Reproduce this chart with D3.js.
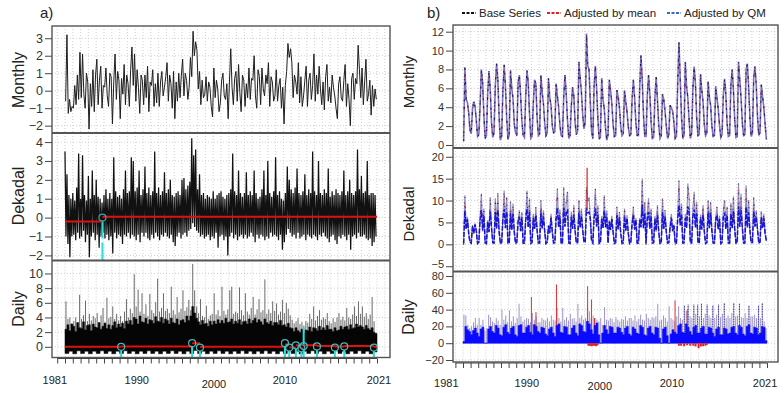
<!DOCTYPE html>
<html><head><meta charset="utf-8">
<script src="https://cdn.jsdelivr.net/npm/d3@7/dist/d3.min.js"></script>
<style>body{margin:0;background:#fff;} svg{display:block;font-family:"Liberation Sans",Arial,sans-serif;}</style>
</head><body><svg id="c" width="784" height="393"></svg>
<script>
// ---------------- DATA ----------------
// panel a) monthly anomaly, 6 values per year (1981-2020)
const aMonthly = [
-0.6,3.2,-1.3,-0.5,-1.2,-0.9, -1.0,0.3,-0.8,0.9,-0.5,2.2, -0.4,2.1,-0.2,-1.0,1.0,0.5, -2.2,0.4,-0.9,1.2,-1.2,0.9, 1.8,-0.8,0.6,1.4,-1.0,0.3,
0.2,1.3,-0.3,-0.9,1.0,0.8, -1.9,0.5,2.1,-0.5,1.1,0.6, -1.6,0.7,-0.2,1.5,-0.8,0.9, 0.4,-0.9,1.2,2.5,0.3,2.1, -0.6,1.2,0.2,-1.3,0.9,0.6,
-0.8,0.9,-0.4,1.4,-1.2,0.5, 0.3,1.2,-0.9,0.4,-0.7,1.0, -0.9,0.5,1.1,-0.3,0.2,0.8, 1.6,-0.6,0.9,0.4,-1.0,1.1, -1.6,0.5,-0.6,1.0,-0.4,0.9,
1.8,-0.3,1.0,0.6,-0.5,0.2, 1.9,0.8,3.4,2.0,2.8,2.3, 0.1,1.1,-0.8,0.6,-0.4,-0.2, 0.8,-0.6,0.5,0.2,-0.9,-1.5, 1.3,-0.4,0.6,0.1,-1.2,-0.7,
0.6,1.0,-0.3,-0.5,0.4,-1.6, 0.5,2.4,0.2,-0.8,0.7,1.1, -0.6,1.5,-0.1,-1.2,0.9,0.6, -0.9,0.4,-0.4,1.3,-0.5,0.7, 0.6,2.0,-0.3,-1.0,1.2,0.8,
-0.8,1.3,0.1,-0.3,0.9,0.4, 1.6,-0.9,0.8,0.5,-0.6,-0.3, 1.2,-0.6,0.3,0.7,-1.0,0.2, -1.9,0.3,1.1,2.7,1.9,2.4, 1.6,-0.4,0.9,0.5,-0.2,1.6,
-0.7,0.8,-0.9,-0.3,0.6,1.4, -0.9,0.6,1.0,-0.5,0.3,2.1, -0.6,0.9,-0.2,1.4,0.1,-0.8, 0.5,-1.1,0.8,1.5,-0.6,0.2, -0.7,0.9,0.2,-0.3,-1.0,-1.6,
0.4,0.8,-0.4,-0.6,0.6,1.5, -0.9,0.4,-0.5,-2.0,0.7,1.0, -0.5,0.7,0.4,2.6,1.2,-0.4, 1.3,-0.8,0.5,1.8,-0.6,-0.2, 0.6,-1.4,0.3,-0.9,0.1,-0.5];

// dekadal anomaly: highest / lowest value of each quarter (1981-2020)
const aDekHigh = [
3.5,2.3,1.2,1.0, 1.3,0.9,1.6,3.4, 1.0,3.3,1.2,0.9, 2.2,1.0,2.5,1.2, 2.0,1.1,1.0,0.8,
1.2,1.5,1.0,1.3, 1.0,3.2,1.4,1.1, 1.2,1.0,1.5,2.5, 1.3,1.4,3.2,3.0, 1.4,1.6,2.5,1.2,
1.5,2.7,1.3,1.6, 1.2,1.4,3.5,1.3, 1.6,1.2,1.4,2.4, 1.3,1.5,2.0,1.2, 1.1,1.3,1.4,1.2,
2.0,2.1,1.5,1.7, 1.9,4.2,3.3,3.6, 1.5,2.3,1.2,1.3, 1.0,1.2,1.1,1.0, 1.4,1.0,1.2,1.3,
1.4,1.1,1.0,1.2, 1.3,1.5,3.4,1.4, 1.2,2.5,1.3,1.1, 1.3,2.4,1.2,1.4, 1.2,2.5,1.3,1.0,
1.1,1.5,2.5,1.2, 3.0,1.3,1.1,1.4, 3.2,1.2,1.4,1.0, 0.9,1.3,2.7,2.0, 1.5,1.3,1.6,2.6,
1.3,1.2,1.4,2.3, 1.2,1.5,1.3,3.5, 1.4,1.2,3.0,1.3, 1.2,1.5,1.3,2.6, 1.1,1.4,1.2,1.5,
1.3,1.2,1.4,2.5, 1.2,1.4,2.0,1.3, 1.2,1.4,3.6,1.5, 2.2,1.3,1.4,3.0, 1.2,1.3,1.3,1.2];
const aDekLow = [
-1.0,-1.4,-2.1,-1.0, -0.9,-1.2,-0.8,-1.1, -1.0,-0.7,-1.3,-0.9, -2.1,-1.0,-0.8,-1.2, -0.9,-1.6,-1.0,-0.8,
-1.1,-0.9,-1.2,-1.0, -1.9,-0.8,-1.1,-0.9, -1.0,-1.4,-0.9,-1.0, -0.8,-1.1,-0.9,-1.0, -1.2,-0.9,-1.3,-0.8,
-1.0,-0.8,-1.1,-1.2, -0.9,-1.1,-0.8,-1.0, -1.2,-0.9,-1.0,-0.8, -1.0,-1.1,-0.9,-1.3, -1.5,-1.0,-0.8,-1.1,
-0.9,-0.8,-1.0,-0.7, -0.6,-0.3,-0.5,-0.7, -0.8,-1.0,-0.9,-1.1, -1.0,-0.9,-1.2,-1.0, -1.1,-0.8,-1.6,-1.0,
-0.9,-1.2,-1.0,-2.0, -1.0,-0.8,-1.1,-0.9, -1.2,-1.0,-0.9,-1.1, -0.9,-1.1,-1.0,-0.8, -1.0,-1.3,-0.9,-1.1,
-0.9,-1.0,-1.2,-1.0, -1.1,-0.8,-1.0,-0.9, -1.0,-1.2,-0.9,-1.7, -1.3,-0.9,-0.6,-0.8, -1.0,-0.9,-1.1,-0.8,
-1.1,-1.0,-0.9,-1.2, -0.9,-1.0,-1.1,-0.9, -1.0,-1.2,-0.9,-1.0, -0.8,-1.0,-1.1,-1.3, -1.0,-0.9,-1.2,-1.4,
-1.0,-1.1,-0.9,-1.0, -1.2,-0.9,-1.7,-1.0, -0.9,-1.1,-0.8,-1.0, -1.0,-0.9,-1.1,-1.2, -1.1,-1.5,-1.3,-1.0];
const aDekBreaks = [1981, 1985.8, 2021];
const aDekLevels = [-0.2, 0.05];
const aDekChange = [1985.8];
const aDekChangeVal = [0.0];

// daily anomaly: quarterly extremes, quarterly upper body level, half-yearly lower edge
const aDailyPeak = [
6.2,3.8,4.0,3.2, 3.5,4.0,3.1,7.1, 3.8,4.3,6.3,3.5, 4.5,3.6,4.2,3.9, 4.6,3.2,4.3,5.3,
3.4,6.7,3.9,4.1, 5.5,3.8,4.5,3.6, 4.2,3.5,4.8,6.5, 4.0,5.2,4.6,9.9, 5.5,7.8,4.8,7.3,
4.5,5.8,4.2,7.2, 5.0,4.6,6.1,9.3, 4.8,5.3,7.3,4.9, 5.2,4.6,8.2,5.0, 4.4,6.8,4.7,5.2,
7.7,4.9,5.4,6.4, 5.0,11.3,7.7,5.5, 4.6,6.5,4.2,4.0, 5.6,3.8,4.3,4.5, 7.3,4.4,5.0,4.2,
8.2,4.9,4.4,5.1, 7.7,8.2,4.5,4.8, 4.6,8.1,5.0,4.3, 7.3,4.8,4.4,5.3, 6.8,4.4,5.1,6.5,
4.7,5.0,9.2,4.5, 5.1,4.6,6.2,4.9, 5.9,4.4,4.8,6.4, 4.6,6.0,5.2,4.3, 3.7,3.2,3.5,3.9,
3.1,3.4,2.9,3.5, 3.3,4.5,3.8,5.5, 3.6,4.2,5.0,3.7, 4.0,3.8,4.6,3.5, 3.2,3.9,3.4,4.0,
4.6,3.7,4.1,3.6, 5.3,4.0,3.8,4.4, 5.5,4.2,6.2,4.5, 5.5,4.1,4.6,3.8, 4.4,6.8,3.5,1.9];
const aDailyTop = [
2.4,3.0,2.2,3.1, 2.8,2.1,3.3,2.6, 2.5,3.4,2.3,2.9, 3.0,2.2,3.1,2.7, 2.6,3.3,2.4,2.8,
3.2,2.5,3.0,2.4, 2.9,3.4,2.6,3.1, 2.7,3.2,2.5,3.5, 3.1,3.6,3.0,4.0, 3.8,3.1,4.2,3.4,
3.3,3.9,3.1,3.7, 3.6,3.2,4.1,3.5, 3.4,4.0,3.2,3.8, 3.6,3.1,3.9,3.3, 3.2,3.8,3.0,3.6,
3.7,3.3,4.2,3.6, 4.2,5.5,4.6,3.9, 3.4,3.0,3.6,3.1, 3.2,2.8,3.5,3.0, 3.5,3.1,3.7,3.2,
3.6,3.2,3.9,3.3, 3.4,3.8,3.1,3.5, 3.2,3.7,3.0,3.4, 3.5,3.1,3.8,3.2, 3.6,3.9,3.3,3.7,
3.4,3.0,3.8,3.3, 3.1,3.5,2.9,3.3, 3.3,3.0,3.6,2.9, 3.0,2.7,3.2,2.6, 2.5,2.1,2.6,2.2,
2.0,2.4,1.9,2.3, 2.2,2.7,2.1,2.6, 2.5,2.2,2.8,2.3, 2.6,2.3,2.9,2.4, 2.4,2.1,2.6,2.2,
2.3,2.8,2.4,2.7, 2.8,2.4,3.0,2.5, 2.6,3.1,2.7,2.9, 2.7,2.4,2.9,2.5, 2.3,2.6,2.0,1.8];
const aDailyLow = [
-0.9,-0.6, -0.95,-0.55, -0.9,-0.6, -0.95,-0.6, -0.9,-0.55, -0.9,-0.6, -0.95,-0.6, -0.9,-0.55, -0.9,-0.6, -0.95,-0.6,
-0.9,-0.55, -0.9,-0.6, -0.95,-0.6, -0.9,-0.55, -0.9,-0.6, -0.95,-0.6, -0.9,-0.5, -0.9,-0.6, -0.95,-0.6, -0.9,-0.55,
-0.9,-0.6, -0.95,-0.6, -0.9,-0.55, -0.9,-0.6, -0.95,-0.6, -0.9,-0.55, -0.9,-0.6, -0.95,-0.6, -0.9,-0.55, -0.9,-0.6,
-0.95,-0.6, -0.9,-0.55, -0.9,-0.6, -0.95,-0.6, -0.9,-0.55, -0.9,-0.6, -0.95,-0.6, -0.9,-0.55, -0.9,-0.6, -0.95,-0.7];
const aDailyBreaks = [1981, 1988.2, 1997.3, 1998.3, 2009.2, 2009.75, 2010.6, 2011.3, 2011.6, 2013.3, 2015.6, 2016.8, 2020.6, 2021];
const aDailyLevels = [0.0, 0.05, 0.5, 0.0, 0.3, -0.1, 0.2, -0.2, 0.2, 0.1, 0.05, 0.1, 0.0];
const aDailyChange = [1988.2, 1997.3, 1998.3, 2009.2, 2009.75, 2010.6, 2011.3, 2011.6, 2013.3, 2015.6, 2016.8, 2020.6];
const aDailyChangeVal = [0.0, 0.5, -0.1, 0.5, -0.1, 0.2, -0.2, 0.1, 0.05, -0.1, 0.05, -0.1];
const aDailyUpFlag = [2011.6];
const aDailyUpVal = [2.6];

// panel b) precipitation series, 6 values per year (1981-2020)
const bMonthly = [
0.4,8.2,4.8,4.5,3.4,1.6, 1.2,3.8,4.6,4.1,2.6,0.9, 1.1,4.2,8.0,6.6,3.1,0.7, 1.0,5.5,7.8,5.9,2.4,0.8, 1.3,6.2,8.6,7.0,3.0,0.5,
0.9,5.8,8.5,6.2,2.8,0.6, 1.1,7.9,6.0,4.9,2.2,1.3, 1.0,6.6,7.4,5.2,2.5,1.0, 0.8,5.1,7.9,6.6,3.3,0.7, 0.9,4.4,6.9,6.5,2.9,1.0,
1.2,7.4,5.6,4.4,2.3,1.0, 1.3,7.1,5.0,4.2,2.0,1.3, 1.4,6.5,5.2,4.0,2.1,1.0, 0.9,5.0,7.4,5.4,2.6,0.7, 1.0,4.1,6.1,5.2,2.4,1.1,
1.5,8.8,7.1,5.6,3.2,1.7, 2.5,11.8,8.4,8.0,4.5,1.4, 0.7,6.2,8.4,6.0,2.7,0.6, 0.9,7.1,4.8,3.9,1.8,0.5, 1.1,6.9,5.8,4.4,2.2,0.9,
1.0,5.8,5.1,4.0,2.0,1.0, 1.2,5.8,4.6,3.5,1.9,1.0, 1.1,4.9,6.9,5.0,2.3,1.0, 1.0,6.1,9.5,6.9,3.1,0.9, 0.9,5.2,7.4,5.4,2.4,0.7,
0.8,5.0,7.2,4.8,2.2,0.7, 1.0,5.4,4.8,3.6,2.0,0.7, 1.1,4.2,3.9,3.6,2.4,0.7, 0.9,6.5,10.9,6.9,3.0,0.7, 1.0,8.8,6.2,5.0,2.6,0.7,
1.2,6.0,8.3,6.5,2.8,1.0, 1.1,7.5,5.8,4.6,2.2,1.0, 1.3,6.7,5.1,4.2,2.0,0.9, 1.0,6.2,5.0,3.8,2.1,0.8, 1.1,5.2,7.0,5.4,2.3,0.9,
1.0,6.4,8.0,5.8,2.7,0.8, 0.9,8.8,6.9,5.0,2.4,1.0, 1.1,8.0,8.6,6.1,2.9,0.9, 1.2,7.1,8.3,6.4,3.0,1.0, 1.3,6.4,5.1,4.0,2.2,0.6];

const bDekadal = [
0.2,11.2,3.5,6.3,2.5,0.5, 0.3,4.4,2.5,4.8,3.0,0.2, 0.5,6.0,11.6,3.2,8.2,0.3, 0.2,5.5,2.8,10.8,4.0,0.4, 0.3,10.5,3.6,11.6,3.0,0.2,
0.4,6.2,12.3,3.8,10.8,0.3, 0.3,9.7,3.4,9.3,2.8,0.2, 0.5,5.5,7.8,3.0,7.4,0.3, 0.3,6.0,12.3,4.0,10.5,0.2, 0.4,7.0,3.5,8.5,3.2,0.3,
0.3,10.1,3.8,7.8,2.9,0.2, 0.5,4.4,2.6,7.0,2.8,0.3, 0.4,6.5,12.7,4.0,8.0,0.2, 0.3,13.1,4.2,9.7,12.0,0.3, 0.2,7.5,3.6,9.0,3.1,0.3,
0.4,10.1,4.0,8.2,3.3,0.5, 0.6,13.1,10.0,10.5,6.5,0.8, 0.3,7.0,12.7,4.2,8.9,0.2, 0.4,6.5,3.8,11.2,4.0,7.8, 0.3,5.5,3.3,6.5,2.8,0.2,
0.4,8.6,3.5,7.4,2.6,0.3, 0.3,8.2,3.2,6.7,2.5,0.2, 0.5,5.0,8.6,3.4,6.0,0.3, 0.3,6.0,4.0,15.0,3.8,9.7, 0.2,7.0,10.5,3.7,8.2,0.3,
0.4,6.5,3.2,9.0,3.0,0.2, 0.3,10.5,3.6,7.8,2.8,0.3, 0.4,4.0,7.0,3.0,4.5,0.2, 0.3,6.5,14.6,4.5,9.3,0.3, 0.4,7.0,3.8,13.9,10.5,0.3,
0.3,8.0,12.0,4.0,9.7,0.4, 0.3,6.8,3.5,9.0,3.0,0.2, 0.4,10.1,3.8,9.7,3.1,0.3, 0.3,6.0,8.6,3.5,6.5,0.2, 0.4,7.5,10.1,3.6,8.6,0.3,
0.3,9.5,3.8,11.0,3.6,0.3, 0.4,13.9,4.2,11.6,4.0,0.3, 0.3,13.5,4.0,10.1,3.2,0.4, 0.4,10.8,4.2,7.8,3.5,0.3, 0.5,7.6,3.8,7.0,2.5,0.8];
const bDekMeanShift = -0.35;                 // offset of the mean-adjusted series
const bDekMeanSpikeT = [1997.33];
const bDekMeanSpikeV = [17.5];
const bQMFrom = [0, 3, 6, 10, 20];           // quantile-mapping transfer table
const bQMTo   = [0, 3, 5.6, 7.2, 11];

// daily: 4 values per year
const bDailyBody = [
2,20,16,14, 10,15,18,12, 8,17,19,0, 0,17,20,14, 12,21,18,10,
9,19,22,13, 11,18,20,10, 8,21,22,12, 12,19,21,13, 10,22,20,14,
12,19,18,11, 9,17,19,12, 8,21,23,13, 12,20,19,10, 10,18,21,12,
9,23,21,14, 13,26,23,16, 11,21,24,10, 0,12,21,16, 11,20,19,12,
12,19,18,13, 10,18,20,11, 9,19,17,12, 11,21,19,10, 9,18,20,12,
10,19,18,6, 0,17,19,9, 0,11,16,13, 11,21,23,13, 12,23,19,14,
10,19,21,12, 12,18,20,11, 11,19,18,12, 8,17,19,10, 10,18,17,11,
12,19,20,12, 10,21,19,11, 9,20,22,12, 11,19,18,10, 12,20,19,3];
const bDailyPeak = [
34,33,22,18, 20,25,30,22, 30,22,28,15, 18,34,31,26, 24,30,27,22,
40,28,33,25, 39,26,32,24, 30,47,32,26, 28,30,29,25, 36,28,32,25,
25,30,28,27, 30,26,33,28, 27,42,30,26, 42,28,31,27, 35,29,30,26,
47,30,33,28, 30,45,38,30, 33,30,28,26, 30,22,43,28, 27,30,29,25,
31,28,26,29, 28,32,27,30, 30,27,33,26, 29,34,28,27, 35,30,28,31,
30,32,47,27, 28,33,30,26, 44,30,28,26, 32,44,30,28, 45,38,46,32,
30,46,35,46, 32,47,30,35, 46,33,30,45, 30,34,46,31, 35,48,30,33,
30,36,48,32, 33,47,31,30, 36,30,45,32, 32,34,30,45, 30,48,26,18];
const bDailyMeanT = [1990.0, 1990.6, 1993.3, 1997.4, 1997.9, 1998.3, 2008.9, 2010.5];
const bDailyMeanV = [55, 37, 70, 68, 52, 30, 51, 40];
const bDailyMeanNegT = [1997.5,1997.7,1997.9,1998.1,1998.3,1998.5,1998.7, 2009.4,2009.7,2010.1,2010.5,2010.9,2011.3,2011.6,2012.0,2012.3,2012.6,2012.9,2013.1];
const bDailyMeanNegV = [-3,-3,-3.5,-3,-3,-3.5,-2.5, -3,-3,-3.5,-2.5,-3,-3,-4,-6,-4,-3.5,-3,-2];

const yTicksA = [[-2,-1,0,1,2,3],[-2,-1,0,1,2,3,4],[0,2,4,6,8,10]];
const yTicksB = [[0,2,4,6,8,10,12],[-5,0,5,10,15,20],[-20,0,20,40,60,80]];
const rowNames = ["Monthly","Dekadal","Daily"];
const yearLabels = ["1981","1990","2000","2010","2021"];
const aLabelAt = [1979.7, 1990.2, 2000.1, 2009.2, 2021.25];
const bLabelAt = [1978.8, 1989.4, 1999.0, 2008.5, 2020.75];
const legendNames = ["Base Series","Adjusted by mean","Adjusted by QM"];

// ---------------- LAYOUT ----------------
const svg = d3.select("#c");
const tAt = n => i => 1981 + (i + 0.5) / n;
const xA = d3.scaleLinear().domain([1981, 2021]).range([65, 377]);
const xB = d3.scaleLinear().domain([1981, 2021]).range([463, 767]);
const FONT = "Liberation Sans, Arial, sans-serif";

const A = {left:52, right:390, x:xA, labelX:18, tfs:12.5, rows:[
  {top:26, bottom:133, dom:[-2.42,3.7], ly:80, fs:16},
  {top:133, bottom:260.5, dom:[-2.27,4.48], ly:196, fs:16},
  {top:260.5, bottom:357.5, dom:[-1.46,11.77], ly:309, fs:16}]};
const B = {left:453, right:778, x:xB, labelX:408, tfs:11, rows:[
  {top:25, bottom:148, dom:[-0.32,12.71], ly:82, fs:15},
  {top:148, bottom:271.5, dom:[-6.2,22.0], ly:214, fs:15, lowDy:"0.08em"},
  {top:271.5, bottom:362, dom:[-22.4,85.4], ly:317, fs:16}]};

let clipN = 0;
function makeRow(P, r, ticks, name) {
  const x = P.x;
  const y = d3.scaleLinear().domain(r.dom).range([r.bottom, r.top]);
  const id = "clip" + (clipN++);
  svg.append("clipPath").attr("id", id).append("rect")
    .attr("x", P.left).attr("y", r.top).attr("width", P.right - P.left).attr("height", r.bottom - r.top);
  const grid = svg.append("g").attr("clip-path", `url(#${id})`);
  grid.selectAll("line.v").data(d3.range(1980, 2024)).join("line").attr("class","v")
    .attr("x1", d => x(d)).attr("x2", d => x(d)).attr("y1", r.top).attr("y2", r.bottom)
    .attr("stroke", "#c4c4c4").attr("stroke-width", 0.8).attr("stroke-dasharray", "1,2");
  grid.selectAll("line.h").data(ticks).join("line").attr("class","h")
    .attr("x1", P.left).attr("x2", P.right).attr("y1", d => y(d)).attr("y2", d => y(d))
    .attr("stroke", "#c4c4c4").attr("stroke-width", 0.8).attr("stroke-dasharray", "1,2");
  const ax = svg.append("g").attr("transform", `translate(${P.left},0)`)
    .call(d3.axisLeft(y).tickValues(ticks).tickFormat(d3.format("d")).tickSize(7).tickPadding(2));
  ax.select(".domain").remove();
  ax.selectAll(".tick line").attr("stroke", "#444");
  ax.selectAll(".tick text").attr("font-size", P.tfs).attr("fill", "#333").attr("font-family", FONT);
  if (r.lowDy) ax.selectAll(".tick text").filter(d => d === ticks[0]).attr("dy", r.lowDy);
  svg.append("text").attr("transform", `translate(${P.labelX},${r.ly}) rotate(-90)`)
    .attr("text-anchor", "middle").attr("dominant-baseline", "central")
    .attr("font-size", r.fs).attr("fill", "#222").attr("font-family", FONT).text(name);
  const plot = svg.append("g").attr("clip-path", `url(#${id})`);
  return {x, y, plot};
}

function frames(P) {
  const r0 = P.rows[0], r2 = P.rows[2];
  svg.append("rect").attr("x", P.left).attr("y", r0.top).attr("width", P.right - P.left)
    .attr("height", r2.bottom - r0.top).attr("fill", "none").attr("stroke", "#555").attr("stroke-width", 1.4);
  [P.rows[1].top, P.rows[2].top].forEach(v => svg.append("line")
    .attr("x1", P.left).attr("x2", P.right).attr("y1", v).attr("y2", v)
    .attr("stroke", "#555").attr("stroke-width", 2));
}

function xAxis(P, bottom, labelAt, base) {
  const x = P.x;
  const g = svg.append("g").attr("transform", `translate(0,${bottom + 1})`)
    .call(d3.axisBottom(x).tickValues(d3.range(1980, 2022)).tickSize(5).tickFormat(""));
  g.select(".domain").remove();
  g.selectAll(".tick line").attr("stroke", "#444");
  g.append("line").attr("x1", x(1980)).attr("x2", x(2021)).attr("stroke", "#444");
  svg.selectAll(null).data(yearLabels).join("text")
    .attr("x", (d, i) => x(labelAt[i])).attr("y", d => base + (d === "2000" ? 3.5 : 0))
    .attr("text-anchor", "middle").attr("font-size", 11).attr("fill", "#222")
    .attr("font-family", "Liberation Sans Narrow, Liberation Sans, Arial").text(d => d);
}

const line = (x, y) => d3.line().x(d => x(d[0])).y(d => y(d[1]));

// ---------------- PANEL A ----------------
{
  const P = A;
  // Monthly
  let R = makeRow(P, P.rows[0], yTicksA[0], rowNames[0]);
  const tm = tAt(6);
  R.plot.append("path").datum(aMonthly.map((v, i) => [tm(i), v]))
    .attr("d", line(R.x, R.y)).attr("fill", "none").attr("stroke", "#1e1e1e").attr("stroke-width", 1);

  // Dekadal
  R = makeRow(P, P.rows[1], yTicksA[1], rowNames[1]);
  const dz = [];
  aDekHigh.forEach((v, i) => { dz.push([1981 + i / 4, v]); dz.push([1981 + (i + 0.5) / 4, aDekLow[i]]); });
  R.plot.append("path").datum(dz).attr("d", line(R.x, R.y)).attr("fill", "none")
    .attr("stroke", "#111").attr("stroke-width", 1.25);
  const cx = R.x(aDekChange[0]), cy = R.y(aDekChangeVal[0]);
  R.plot.append("line").attr("x1", cx).attr("x2", cx).attr("y1", cy + 3).attr("y2", P.rows[1].bottom + 2)
    .attr("stroke", "#22e0e0").attr("stroke-width", 2).attr("stroke-dasharray", "18,4");
  aDekLevels.forEach((lv, i) => R.plot.append("line")
    .attr("x1", R.x(aDekBreaks[i])).attr("x2", R.x(aDekBreaks[i + 1]))
    .attr("y1", R.y(lv)).attr("y2", R.y(lv)).attr("stroke", "#e01010").attr("stroke-width", 2));
  R.plot.append("circle").attr("cx", cx).attr("cy", cy).attr("r", 3.5)
    .attr("fill", "none").attr("stroke", "#3aa").attr("stroke-width", 1.2);

  // Daily
  R = makeRow(P, P.rows[2], yTicksA[2], rowNames[2]);
  const tq = tAt(4);
  R.plot.selectAll("line.sp").data(aDailyPeak).join("line").attr("class", "sp")
    .attr("x1", (d, i) => R.x(tq(i))).attr("x2", (d, i) => R.x(tq(i)))
    .attr("y1", R.y(0)).attr("y2", d => R.y(d)).attr("stroke", "#6a6a6a").attr("stroke-width", 1);
  const area = d3.area().curve(d3.curveStepAfter).x(d => R.x(d[0])).y0(d => R.y(d[1])).y1(d => R.y(d[2]));
  const bodyPts = aDailyTop.map((v, i) => [1981 + i / 4, aDailyLow[Math.floor(i / 2)], v]);
  bodyPts.push([2021, aDailyLow[aDailyLow.length - 1], aDailyTop[aDailyTop.length - 1]]);
  R.plot.append("path").datum(bodyPts)
    .attr("d", area).attr("fill", "#050505").attr("stroke", "#050505").attr("stroke-width", 0.5);
  aDailyLevels.forEach((lv, i) => R.plot.append("line")
    .attr("x1", R.x(aDailyBreaks[i])).attr("x2", R.x(aDailyBreaks[i + 1]))
    .attr("y1", R.y(lv)).attr("y2", R.y(lv)).attr("stroke", "#e01010").attr("stroke-width", 2));
  R.plot.selectAll("line.cy").data(aDailyChange).join("line").attr("class", "cy")
    .attr("x1", d => R.x(d)).attr("x2", d => R.x(d))
    .attr("y1", (d, i) => R.y(aDailyChangeVal[i]) + 3.5).attr("y2", P.rows[2].bottom)
    .attr("stroke", "#22e0e0").attr("stroke-width", 2);
  R.plot.selectAll("line.up").data(aDailyUpFlag).join("line").attr("class", "up")
    .attr("x1", d => R.x(d)).attr("x2", d => R.x(d))
    .attr("y1", R.y(0.3)).attr("y2", (d, i) => R.y(aDailyUpVal[i]))
    .attr("stroke", "#22e0e0").attr("stroke-width", 2);
  R.plot.selectAll("circle").data(aDailyChange).join("circle")
    .attr("cx", d => R.x(d)).attr("cy", (d, i) => R.y(aDailyChangeVal[i])).attr("r", 3.5)
    .attr("fill", "none").attr("stroke", "#4bb").attr("stroke-width", 1.2);

  frames(P);
  xAxis(P, P.rows[2].bottom, aLabelAt, 384);
}

// ---------------- PANEL B ----------------
{
  const P = B;
  const t6 = tAt(6), t4 = tAt(4);
  // Monthly
  let R = makeRow(P, P.rows[0], yTicksB[0], rowNames[0]);
  const mData = bMonthly.map((v, i) => [t6(i), v]);
  const lm = line(R.x, R.y);
  R.plot.append("path").datum(mData).attr("d", lm).attr("fill", "none").attr("stroke", "#7e72b8").attr("stroke-width", 1.6);
  R.plot.append("path").datum(mData).attr("d", lm).attr("fill", "none").attr("stroke", "#24188a").attr("stroke-width", 1.1).attr("stroke-dasharray", "2,6");
  R.plot.append("path").datum(mData).attr("d", lm).attr("fill", "none").attr("stroke", "#d83030").attr("stroke-width", 1).attr("stroke-dasharray", "1,16").attr("stroke-dashoffset", 4);
  R.plot.append("path").datum(mData).attr("d", lm).attr("fill", "none").attr("stroke", "#111").attr("stroke-width", 1).attr("stroke-dasharray", "1,13").attr("stroke-dashoffset", 9);

  // Dekadal
  R = makeRow(P, P.rows[1], yTicksB[1], rowNames[1]);
  const qm = d3.scaleLinear().domain(bQMFrom).range(bQMTo);
  const dData = bDekadal.map((v, i) => [t6(i), v]);
  const ld = line(R.x, R.y);
  R.plot.append("path").datum(dData).attr("d", ld).attr("fill", "none").attr("stroke", "#968cc6").attr("stroke-width", 1.2);
  R.plot.append("path").datum(dData.map(d => [d[0], d[1] + bDekMeanShift])).attr("d", ld).attr("fill", "none")
    .attr("stroke", "#e02020").attr("stroke-width", 1).attr("stroke-dasharray", "1,18");
  R.plot.append("path").datum(dData.map(d => [d[0], qm(d[1])])).attr("d", ld).attr("fill", "none")
    .attr("stroke", "#1616e6").attr("stroke-width", 1.5).attr("stroke-dasharray", "5,1.5");
  R.plot.append("path").datum(dData).attr("d", ld).attr("fill", "none").attr("stroke", "#111").attr("stroke-width", 0.8).attr("stroke-dasharray", "1,9");
  R.plot.selectAll("line.ms").data(bDekMeanSpikeT).join("line").attr("class", "ms")
    .attr("x1", d => R.x(d)).attr("x2", d => R.x(d)).attr("y1", R.y(8))
    .attr("y2", (d, i) => R.y(bDekMeanSpikeV[i])).attr("stroke", "#e02020").attr("stroke-width", 1.2);

  // Daily
  R = makeRow(P, P.rows[2], yTicksB[2], rowNames[2]);
  R.plot.selectAll("line.sp").data(bDailyPeak).join("line").attr("class", "sp")
    .attr("x1", (d, i) => R.x(t4(i))).attr("x2", (d, i) => R.x(t4(i)))
    .attr("y1", R.y(0)).attr("y2", d => R.y(d)).attr("stroke", "#9c94c8").attr("stroke-width", 1);
  R.plot.selectAll("line.mr").data(bDailyMeanT).join("line").attr("class", "mr")
    .attr("x1", d => R.x(d)).attr("x2", d => R.x(d)).attr("y1", R.y(0))
    .attr("y2", (d, i) => R.y(bDailyMeanV[i])).attr("stroke", "#e03030").attr("stroke-width", 1);
  const bArea = d3.area().curve(d3.curveStepAfter).x(d => R.x(d[0])).y0(R.y(0)).y1(d => R.y(d[1]));
  const bBody = bDailyBody.map((v, i) => [1981 + i / 4, v]);
  bBody.push([2021, bDailyBody[bDailyBody.length - 1]]);
  R.plot.append("path").datum(bBody).attr("d", bArea)
    .attr("fill", "#0a0aff").attr("stroke", "#0a0aff").attr("stroke-width", 0.6);
  R.plot.selectAll("line.qm").data(bDailyPeak.map((v, i) => [t4(i), v]).filter(d => d[0] >= 2010 && d[1] >= 40))
    .join("line").attr("class", "qm")
    .attr("x1", d => R.x(d[0])).attr("x2", d => R.x(d[0])).attr("y1", R.y(10)).attr("y2", d => R.y(d[1]))
    .attr("stroke", "#2a2aa0").attr("stroke-width", 1).attr("stroke-dasharray", "1,1.5");
  R.plot.selectAll("line.mn").data(bDailyMeanNegT).join("line").attr("class", "mn")
    .attr("x1", d => R.x(d)).attr("x2", d => R.x(d)).attr("y1", R.y(0))
    .attr("y2", (d, i) => R.y(bDailyMeanNegV[i])).attr("stroke", "#e02020").attr("stroke-width", 2);

  frames(P);
  xAxis(P, P.rows[2].bottom, bLabelAt, 386.5);
}

// labels & legend
svg.append("text").attr("x", 40).attr("y", 18).attr("font-size", 15).attr("font-family", FONT).attr("fill", "#222").text("a)");
svg.append("text").attr("x", 427).attr("y", 18).attr("font-size", 15).attr("font-family", FONT).attr("fill", "#222").text("b)");
const legX = [462, 547, 667], legCol = ["#111", "#e02020", "#3a66d0"];
legendNames.forEach((n, i) => {
  svg.append("line").attr("x1", legX[i]).attr("x2", legX[i] + 14).attr("y1", 13).attr("y2", 13)
    .attr("stroke", legCol[i]).attr("stroke-width", 2).attr("stroke-dasharray", "3,1.5");
  svg.append("text").attr("x", legX[i] + 17).attr("y", 17).attr("font-size", 11.5)
    .attr("font-family", FONT).attr("fill", "#222").text(n);
});
</script></body></html>
